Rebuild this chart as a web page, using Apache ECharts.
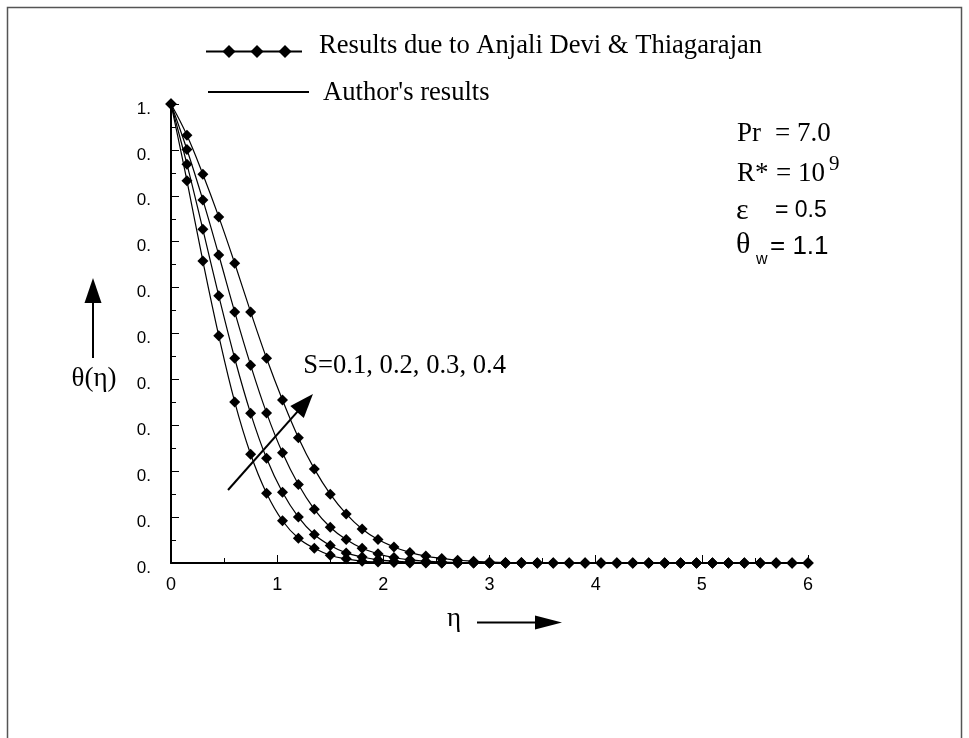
<!DOCTYPE html>
<html>
<head>
<meta charset="utf-8">
<title>Temperature profiles θ(η)</title>
<script src="https://cdn.jsdelivr.net/npm/echarts@6/dist/echarts.min.js"></script>
<style>
  html, body { margin: 0; padding: 0; background: #fff; }
  #chart { width: 969px; height: 738px; }
</style>
</head>
<body>
<div id="chart"></div>
<script>
// Similarity coordinate η (grid of the tabulated solution)
const eta = [0, 0.15, 0.3, 0.45, 0.6, 0.75, 0.9, 1.05, 1.2, 1.35, 1.5, 1.65, 1.8, 1.95, 2.1, 2.25, 2.4, 2.55, 2.7, 2.85,
             3, 3.15, 3.3, 3.45, 3.6, 3.75, 3.9, 4.05, 4.2, 4.35, 4.5, 4.65, 4.8, 4.95, 5.1, 5.25, 5.4, 5.55, 5.7, 5.85, 6];

// Dimensionless temperature θ(η) for each suction parameter S
const thetaS01 = [1, 0.833, 0.658, 0.495, 0.351, 0.237, 0.152, 0.092, 0.054, 0.032, 0.017, 0.009, 0.004, 0.002, 0.001,
                  0, 0, 0, 0, 0, 0, 0, 0, 0, 0, 0, 0, 0, 0, 0, 0, 0, 0, 0, 0, 0, 0, 0, 0, 0, 0];
const thetaS02 = [1, 0.869, 0.727, 0.582, 0.446, 0.326, 0.228, 0.154, 0.100, 0.062, 0.038, 0.022, 0.013, 0.007, 0.004,
                  0.002, 0.001, 0, 0, 0, 0, 0, 0, 0, 0, 0, 0, 0, 0, 0, 0, 0, 0, 0, 0, 0, 0, 0, 0, 0, 0];
const thetaS03 = [1, 0.901, 0.791, 0.671, 0.547, 0.431, 0.327, 0.240, 0.171, 0.117, 0.078, 0.051, 0.032, 0.020, 0.012,
                  0.007, 0.004, 0.002, 0.001, 0.001, 0, 0, 0, 0, 0, 0, 0, 0, 0, 0, 0, 0, 0, 0, 0, 0, 0, 0, 0, 0, 0];
const thetaS04 = [1, 0.932, 0.847, 0.754, 0.653, 0.547, 0.446, 0.355, 0.273, 0.205, 0.150, 0.107, 0.074, 0.051, 0.035,
                  0.023, 0.015, 0.010, 0.006, 0.004, 0.002, 0.001, 0.001, 0, 0, 0, 0, 0, 0, 0, 0, 0, 0, 0, 0, 0, 0, 0, 0, 0, 0];

const curveNames = ['S=0.1', 'S=0.2', 'S=0.3', 'S=0.4'];
const curves = [thetaS01, thetaS02, thetaS03, thetaS04];

// Tick labels as printed on the axes
const xTickLabels = ['0', '1', '2', '3', '4', '5', '6'];
const yTickLabels = ['0.', '0.', '0.', '0.', '0.', '0.', '0.', '0.', '0.', '0.', '1.'];

const SERIF = "'Liberation Serif', 'Times New Roman', serif";
const SANS = "'Liberation Sans', Arial, sans-serif";

const chart = echarts.init(document.getElementById('chart'), null, { renderer: 'canvas' });

const option = {
  backgroundColor: '#fff',
  animation: false,
  grid: { left: 171, right: 161, top: 104, bottom: 175, containLabel: false },
  xAxis: {
    type: 'value', min: 0, max: 6, interval: 1,
    axisLine: { onZero: false, lineStyle: { color: '#000', width: 2 } },
    axisTick: { inside: true, length: 8, lineStyle: { color: '#000', width: 1 } },
    minorTick: { show: true, splitNumber: 2, length: 5, lineStyle: { color: '#000', width: 1 } },
    splitLine: { show: false },
    axisLabel: {
      color: '#000', fontFamily: SANS, fontSize: 18, margin: 13,
      formatter: v => xTickLabels[Math.round(v)]
    }
  },
  yAxis: {
    type: 'value', min: 0, max: 1, interval: 0.1,
    axisLine: { onZero: false, lineStyle: { color: '#000', width: 2 } },
    axisTick: { inside: true, length: 8, lineStyle: { color: '#000', width: 1 } },
    minorTick: { show: true, splitNumber: 2, length: 5, lineStyle: { color: '#000', width: 1 } },
    splitLine: { show: false },
    axisLabel: {
      color: '#000', fontFamily: SANS, fontSize: 17, margin: 20,
      verticalAlign: 'top', lineHeight: 10,
      formatter: v => yTickLabels[Math.round(v * 10)]
    }
  },
  series: curves.map((vals, k) => ({
    name: curveNames[k],
    type: 'line',
    data: eta.map((x, i) => [x, vals[i]]),
    smooth: 0.4,
    clip: false,
    symbol: 'diamond',
    symbolSize: 11,
    showAllSymbol: true,
    lineStyle: { color: '#000', width: 1.2 },
    itemStyle: { color: '#000' },
    emphasis: { disabled: true }
  }))
};

chart.setOption(option);

// ---- annotations ----
const px = (x, y) => chart.convertToPixel({ gridIndex: 0 }, [x, y]);

function arrow(x0, y0, x1, y1, headLen, headHalf, width) {
  const dx = x1 - x0, dy = y1 - y0;
  const len = Math.sqrt(dx * dx + dy * dy);
  const ux = dx / len, uy = dy / len;
  const bx = x1 - ux * headLen, by = y1 - uy * headLen;
  const nx = -uy, ny = ux;
  return [
    { type: 'line', shape: { x1: x0, y1: y0, x2: bx + ux * 2, y2: by + uy * 2 },
      style: { stroke: '#000', lineWidth: width }, z: 10 },
    { type: 'polygon', shape: { points: [[x1, y1], [bx + nx * headHalf, by + ny * headHalf], [bx - nx * headHalf, by - ny * headHalf]] },
      style: { fill: '#000' }, z: 10 }
  ];
}

function txt(x, y, text, font, size, align) {
  return { type: 'text', x: x, y: y, z: 10,
    style: { text: text, fill: '#000', fontFamily: font, fontSize: size, align: align || 'left', verticalAlign: 'middle' } };
}

// arrow across the curves, in data coordinates
const a0 = px(0.537, 0.159), a1 = px(1.337, 0.368);
const sLabel = px(1.246, 0.429);

const graphics = [
  // outer frame
  { type: 'rect', shape: { x: 7.5, y: 7.5, width: 954, height: 760 }, style: { fill: null, stroke: '#555', lineWidth: 1.5 }, z: 0 },

  // legend: reference results (line with diamonds)
  { type: 'line', shape: { x1: 206, y1: 51.5, x2: 302, y2: 51.5 }, style: { stroke: '#000', lineWidth: 2 }, z: 10 },
  ...[229, 257, 285].map(cx => ({ type: 'polygon', z: 11,
      shape: { points: [[cx, 45], [cx + 6.5, 51.5], [cx, 58], [cx - 6.5, 51.5]] }, style: { fill: '#000' } })),
  txt(319, 46, 'Results due to Anjali Devi & Thiagarajan', SERIF, 26.6),
  // legend: present solution (plain line)
  { type: 'line', shape: { x1: 208, y1: 92, x2: 309, y2: 92 }, style: { stroke: '#000', lineWidth: 2 }, z: 10 },
  txt(323, 93, "Author's results", SERIF, 26.6),

  // parameter block
  txt(737, 134, 'Pr', SERIF, 27),
  txt(775, 134, '= 7.0', SERIF, 27),
  txt(737, 174, 'R*', SERIF, 27),
  txt(776, 174, '= 10', SERIF, 27),
  txt(829, 164, '9', SERIF, 21),
  txt(736, 211, 'ε', SERIF, 30),
  txt(775, 211, '= 0.5', SANS, 23),
  txt(736, 245, 'θ', SERIF, 30),
  txt(756, 260, 'w', SANS, 16),
  txt(770, 247, '= 1.1', SANS, 26),

  // parameter sweep label
  txt(sLabel[0], sLabel[1], 'S=0.1, 0.2, 0.3, 0.4', SERIF, 26.6),
  ...arrow(a0[0], a0[1], a1[0], a1[1], 24, 9, 2),

  // y-axis name with upward arrow
  txt(94, 379, 'θ(η)', SERIF, 27, 'center'),
  ...arrow(93, 358, 93, 278, 25, 8.5, 2),

  // x-axis name with rightward arrow
  txt(454, 619, 'η', SERIF, 27, 'center'),
  ...arrow(477, 622.5, 562, 622.5, 27, 7, 2)
];

chart.setOption({ graphic: graphics });
</script>
</body>
</html>
